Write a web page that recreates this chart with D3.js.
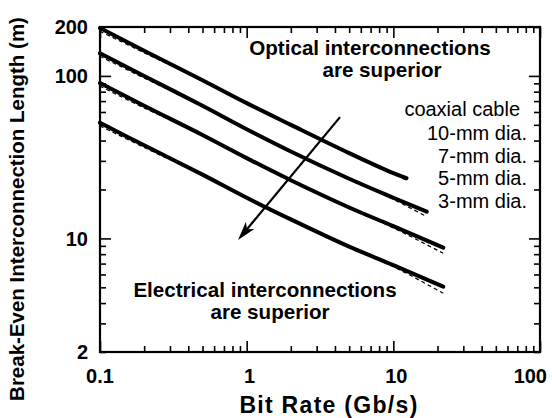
<!DOCTYPE html>
<html>
<head>
<meta charset="utf-8">
<script src="https://cdn.jsdelivr.net/npm/d3@7/dist/d3.min.js"></script>
<style>
  html, body { margin: 0; padding: 0; background: #fff; }
  svg { display: block; font-family: "Liberation Sans", Arial, Helvetica, sans-serif; }
</style>
</head>
<body>
<svg id="chart" width="552" height="418"></svg>
<script>
// Break-even interconnection length vs. bit rate, coaxial cable vs. optical link
const cableLabels = ["10-mm dia.", "7-mm dia.", "5-mm dia.", "3-mm dia."];
const rateGrid = [0.1, 0.2, 0.5, 1, 2, 5, 10];      // Gb/s
const rateEnd = [12.3, 16.9, 21.9, 21.9];            // last computed bit rate per cable

// computed break-even length (m), solid curves
const len10mm = [197, 143, 94, 68, 50, 33.5, 25.2, 23.5];
const len7mm  = [138, 100, 65.5, 47, 34.3, 23.3, 17.8, 14.6];
const len5mm  = [90.4, 65.5, 43.3, 31.2, 22.8, 15.5, 11.9, 8.77];
const len3mm  = [51.5, 37.4, 24.7, 17.8, 13.1, 8.9, 6.85, 5.05];

// approximate expression, dashed curves
const fit10mm = [188, 139, 93, 67.5, 49.5, 33.2, 25, 22.8];
const fit7mm  = [132, 97, 65, 46.7, 34, 23.1, 17.4, 13.6];
const fit5mm  = [86.5, 63.5, 43, 31, 22.6, 15.3, 11.6, 8.1];
const fit3mm  = [49.2, 36.3, 24.5, 17.7, 13, 8.8, 6.7, 4.6];

const xTickLabels = [0.1, 1, 10, 100];
const yTickLabels = [2, 10, 100, 200];

// arrow from the optical region towards the electrical region (data units)
const arrowFrom = [4.33, 55.8];
const arrowTo = [0.873, 9.78];

const svg = d3.select("#chart");
const L = 100, R = 540, T = 27, B = 352;

const x = d3.scaleLog().domain([0.1, 100]).range([L, R]);
const y = d3.scaleLog().domain([2, 200]).range([B, T]);

const isMajor = v => Math.abs(Math.log10(v) - Math.round(Math.log10(v))) < 1e-9;
const xMinor = x.ticks().filter(v => !isMajor(v));
const xMajor = x.ticks().filter(isMajor);
const yMinor = y.ticks().filter(v => !isMajor(v));
const yMajor = y.ticks().filter(isMajor);

const MINOR = 6, MAJOR = 11;

function tickAxis(axisFn, scale, values, size, transform) {
  const g = svg.append("g")
    .attr("transform", transform)
    .call(axisFn(scale).tickValues(values).tickSize(-size).tickFormat(""));
  g.select(".domain").remove();
  g.selectAll(".tick line").attr("stroke", "#000").attr("stroke-width", 1.6);
}
tickAxis(d3.axisBottom, x, xMinor, MINOR, `translate(0,${B})`);
tickAxis(d3.axisBottom, x, xMajor, MAJOR, `translate(0,${B})`);
tickAxis(d3.axisTop, x, xMinor, MINOR, `translate(0,${T})`);
tickAxis(d3.axisTop, x, xMajor, MAJOR, `translate(0,${T})`);
tickAxis(d3.axisLeft, y, yMinor, MINOR, `translate(${L},0)`);
tickAxis(d3.axisLeft, y, yMajor, MAJOR, `translate(${L},0)`);
tickAxis(d3.axisRight, y, yMinor, MINOR, `translate(${R},0)`);
tickAxis(d3.axisRight, y, yMajor, MAJOR, `translate(${R},0)`);

// frame
svg.append("rect")
  .attr("x", L).attr("y", T).attr("width", R - L).attr("height", B - T)
  .attr("fill", "none").attr("stroke", "#000").attr("stroke-width", 2.2);

// tick labels
svg.append("g").selectAll("text").data(xTickLabels).join("text")
  .attr("x", d => d === 100 ? 547 : x(d) + (d === 1 || d === 10 ? 3 : 0))
  .attr("y", 383)
  .attr("text-anchor", d => d === 100 ? "end" : "middle")
  .attr("font-size", 20).attr("font-weight", "bold")
  .text(d => String(d));

svg.append("g").selectAll("text").data(yTickLabels).join("text")
  .attr("x", 88)
  .attr("y", d => y(d))
  .attr("dy", "0.36em")
  .attr("text-anchor", "end")
  .attr("font-size", 20).attr("font-weight", "bold")
  .text(d => String(d));

// axis titles
svg.append("text")
  .attr("x", 329).attr("y", 413)
  .attr("text-anchor", "middle")
  .attr("font-size", 23).attr("font-weight", "bold")
  .attr("letter-spacing", 1.3)
  .text("Bit Rate  (Gb/s)");

svg.append("text")
  .attr("transform", "translate(24,209) rotate(-90)")
  .attr("text-anchor", "middle")
  .attr("font-size", 20.5).attr("font-weight", "bold")
  .text("Break-Even Interconnection Length  (m)");

// curves
const solidSets = [len10mm, len7mm, len5mm, len3mm];
const dashSets = [fit10mm, fit7mm, fit5mm, fit3mm];
const toPoints = (vals, i) => vals.map((v, k) => [k < rateGrid.length ? rateGrid[k] : rateEnd[i], v]);

const line = d3.line()
  .x(d => x(d[0])).y(d => y(d[1]))
  .curve(d3.curveCatmullRom.alpha(0.5));

svg.append("g").selectAll("path").data(dashSets.map(toPoints)).join("path")
  .attr("d", line)
  .attr("fill", "none").attr("stroke", "#000")
  .attr("stroke-width", 1.2).attr("stroke-dasharray", "4,3");

svg.append("g").selectAll("path").data(solidSets.map(toPoints)).join("path")
  .attr("d", line)
  .attr("fill", "none").attr("stroke", "#000")
  .attr("stroke-width", 4).attr("stroke-linecap", "round");

// arrow
const ax0 = x(arrowFrom[0]), ay0 = y(arrowFrom[1]);
const ax1 = x(arrowTo[0]), ay1 = y(arrowTo[1]);
const ang = Math.atan2(ay1 - ay0, ax1 - ax0);
const headLen = 19, headW = 5.5, notch = 5;
const ux = Math.cos(ang), uy = Math.sin(ang), px = -uy, py = ux;
svg.append("line")
  .attr("x1", ax0).attr("y1", ay0)
  .attr("x2", ax1 - ux * (headLen - notch)).attr("y2", ay1 - uy * (headLen - notch))
  .attr("stroke", "#000").attr("stroke-width", 2.2);
const bx = ax1 - ux * headLen, by = ay1 - uy * headLen;
svg.append("path")
  .attr("d", `M${ax1},${ay1} L${bx + px * headW},${by + py * headW} L${ax1 - ux * (headLen - notch)},${ay1 - uy * (headLen - notch)} L${bx - px * headW},${by - py * headW} Z`)
  .attr("fill", "#000");

// region annotations
const bold = (t, cx, by) => svg.append("text")
  .attr("x", cx).attr("y", by).attr("text-anchor", "middle")
  .attr("font-size", 20.6).attr("font-weight", "bold").text(t);
bold("Optical interconnections", 370, 55);
bold("are superior", 382, 77);
bold("Electrical interconnections", 265, 297);
bold("are superior", 270, 319);

// cable legend
svg.append("text").attr("x", 520).attr("y", 116).attr("text-anchor", "end")
  .attr("font-size", 20).text("coaxial cable");
svg.append("g").selectAll("text").data(cableLabels).join("text")
  .attr("x", 527)
  .attr("y", (d, i) => 140 + i * 22.7)
  .attr("text-anchor", "end")
  .attr("font-size", 20)
  .text(d => d);
</script>
</body>
</html>
